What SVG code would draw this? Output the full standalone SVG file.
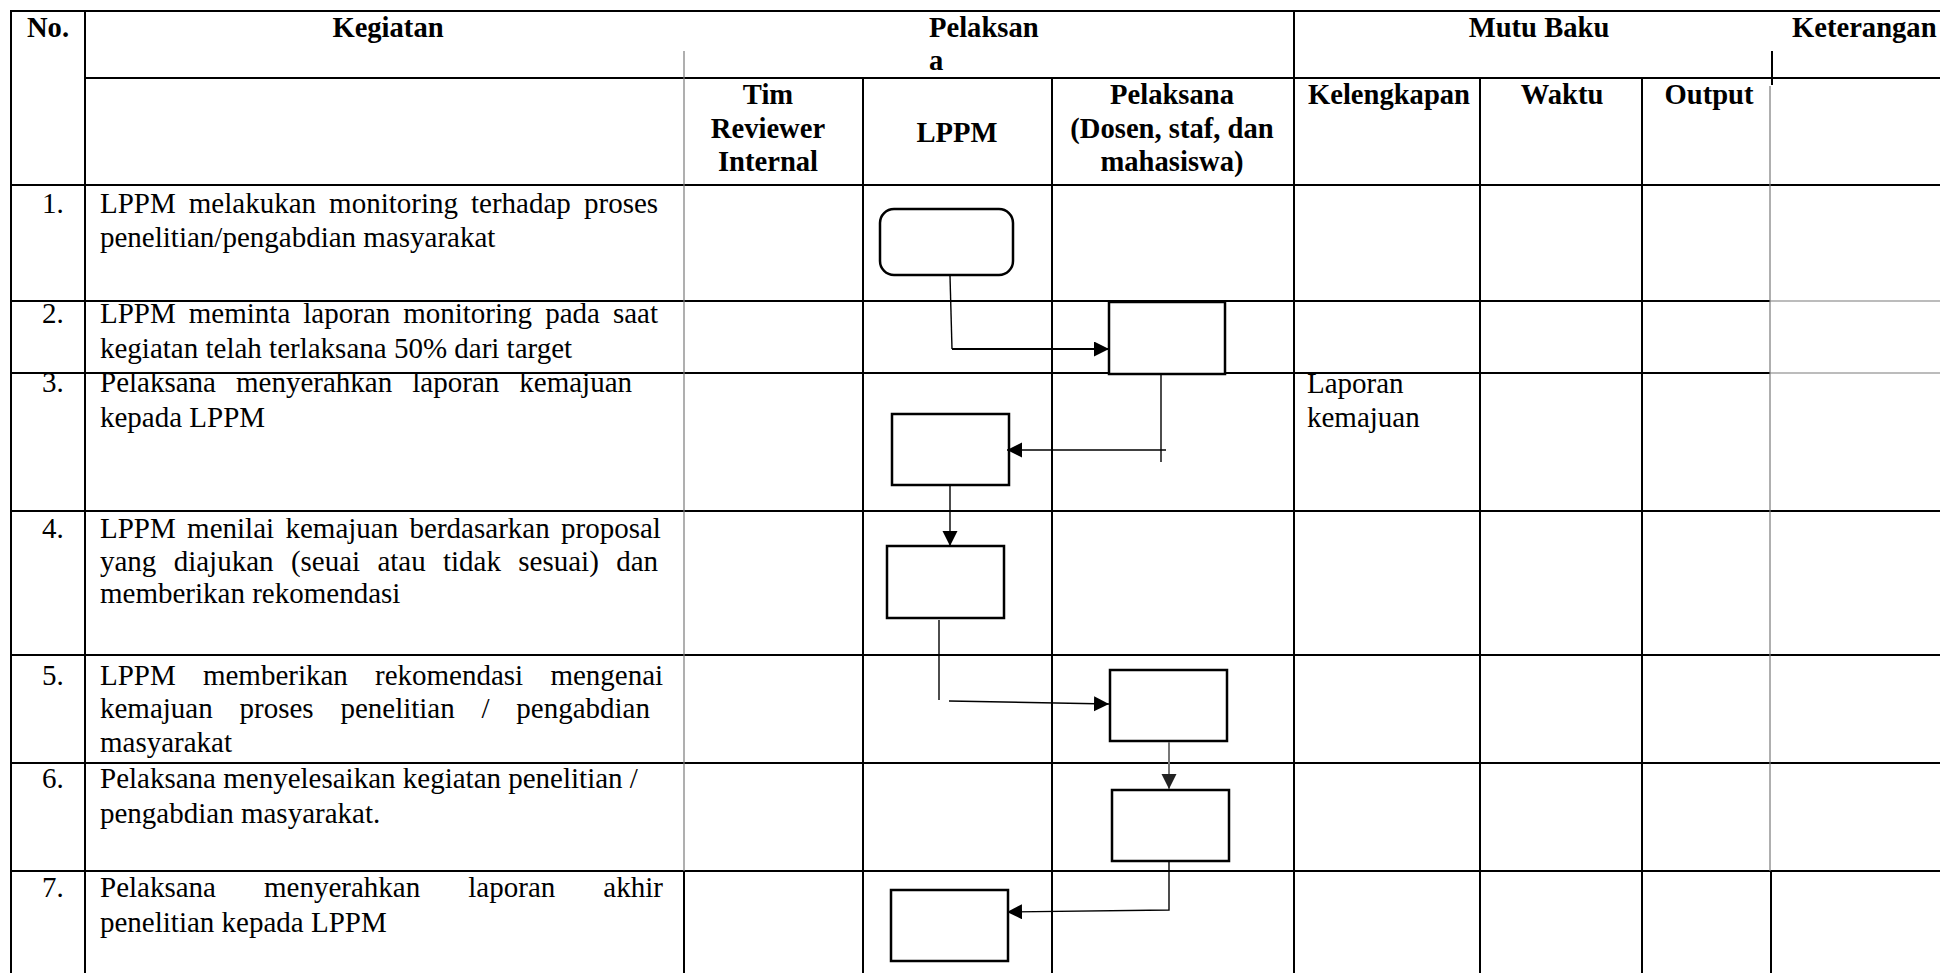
<svg xmlns="http://www.w3.org/2000/svg" width="1940" height="973" viewBox="0 0 1940 973">
<style>
.ln{stroke:#000;stroke-width:2;fill:none}
.gl{stroke:#7a7a7a;stroke-width:1.2;fill:none}
.hd{font-family:"Liberation Serif","Times New Roman",serif;font-weight:bold;font-size:28.6px;fill:#000}
.tx{font-family:"Liberation Serif","Times New Roman",serif;font-size:29px;fill:#000}
.bx{fill:#fff;stroke:#000;stroke-width:2.5}
.cn{stroke:#000;stroke-width:1.4;fill:none}
</style>
<defs>
<marker id="ah" markerUnits="userSpaceOnUse" markerWidth="16" markerHeight="16" refX="15" refY="7.5" orient="auto"><path d="M0,0 L15,7.5 L0,15 Z" fill="#000"/></marker>
<marker id="ahg" markerUnits="userSpaceOnUse" markerWidth="16" markerHeight="16" refX="15" refY="7.5" orient="auto"><path d="M0,0 L15,7.5 L0,15 Z" fill="#222"/></marker>
</defs>
<rect x="0" y="0" width="1940" height="973" fill="#fff"/>
<g id="table">
<line class="ln" x1="10" y1="11" x2="1940" y2="11"/>
<line class="ln" x1="85" y1="78" x2="1940" y2="78"/>
<line class="ln" x1="10" y1="185" x2="1940" y2="185"/>
<line class="ln" x1="10" y1="301" x2="1770" y2="301"/>
<line class="gl" x1="1770" y1="301" x2="1940" y2="301"/>
<line class="ln" x1="10" y1="373" x2="1770" y2="373"/>
<line class="gl" x1="1770" y1="373" x2="1940" y2="373"/>
<line class="ln" x1="10" y1="511" x2="1940" y2="511"/>
<line class="ln" x1="10" y1="655" x2="1940" y2="655"/>
<line class="ln" x1="10" y1="763" x2="1940" y2="763"/>
<line class="ln" x1="10" y1="871" x2="1940" y2="871"/>
<line class="ln" x1="11" y1="10" x2="11" y2="973"/>
<line class="ln" x1="85" y1="10" x2="85" y2="973"/>
<line class="gl" x1="684" y1="51" x2="684" y2="871"/>
<line class="ln" x1="684" y1="871" x2="684" y2="973"/>
<line class="ln" x1="863" y1="78" x2="863" y2="973"/>
<line class="ln" x1="1052" y1="78" x2="1052" y2="973"/>
<line class="ln" x1="1294" y1="10" x2="1294" y2="973"/>
<line class="ln" x1="1480" y1="78" x2="1480" y2="973"/>
<line class="ln" x1="1642" y1="78" x2="1642" y2="973"/>
<line class="ln" x1="1772" y1="51" x2="1772" y2="85"/>
<line class="gl" x1="1770" y1="86" x2="1770" y2="871"/>
<line class="ln" x1="1771" y1="871" x2="1771" y2="973"/>
</g>
<g id="header">
<text class="hd" x="48" y="37" text-anchor="middle">No.</text>
<text class="hd" x="388" y="37" text-anchor="middle">Kegiatan</text>
<text class="hd" x="929" y="37">Pelaksan</text>
<text class="hd" x="929" y="70">a</text>
<text class="hd" x="1539" y="37" text-anchor="middle">Mutu Baku</text>
<text class="hd" x="1792" y="37">Keterangan</text>
<text class="hd" x="768" y="104" text-anchor="middle">Tim</text>
<text class="hd" x="768" y="138" text-anchor="middle">Reviewer</text>
<text class="hd" x="768" y="171" text-anchor="middle">Internal</text>
<text class="hd" x="957" y="142" text-anchor="middle">LPPM</text>
<text class="hd" x="1172" y="104" text-anchor="middle">Pelaksana</text>
<text class="hd" x="1172" y="138" text-anchor="middle">(Dosen, staf, dan</text>
<text class="hd" x="1172" y="171" text-anchor="middle">mahasiswa)</text>
<text class="hd" x="1389" y="104" text-anchor="middle">Kelengkapan</text>
<text class="hd" x="1562" y="104" text-anchor="middle">Waktu</text>
<text class="hd" x="1709" y="104" text-anchor="middle">Output</text>
</g>
<g id="rows">
<text class="tx" x="42" y="213">1.</text>
<text class="tx" y="213"><tspan x="100">LPPM</tspan><tspan x="188.8">melakukan</tspan><tspan x="329.1">monitoring</tspan><tspan x="471">terhadap</tspan><tspan x="584">proses</tspan></text>
<text class="tx" x="100" y="247">penelitian/pengabdian masyarakat</text>
<text class="tx" x="42" y="323">2.</text>
<text class="tx" y="323"><tspan x="100">LPPM</tspan><tspan x="188.8">meminta</tspan><tspan x="303.3">laporan</tspan><tspan x="403.2">monitoring</tspan><tspan x="545.2">pada</tspan><tspan x="612.9">saat</tspan></text>
<text class="tx" x="100" y="358">kegiatan telah terlaksana 50% dari target</text>
<text class="tx" x="42" y="392">3.</text>
<text class="tx" y="392"><tspan x="100">Pelaksana</tspan><tspan x="236">menyerahkan</tspan><tspan x="412.3">laporan</tspan><tspan x="519.3">kemajuan</tspan></text>
<text class="tx" x="100" y="427">kepada LPPM</text>
<text class="tx" x="1307" y="393">Laporan</text>
<text class="tx" x="1307" y="427">kemajuan</text>
<text class="tx" x="42" y="538">4.</text>
<text class="tx" y="538"><tspan x="100">LPPM</tspan><tspan x="187.1">menilai</tspan><tspan x="285.5">kemajuan</tspan><tspan x="409.6">berdasarkan</tspan><tspan x="561">proposal</tspan></text>
<text class="tx" y="571"><tspan x="100">yang</tspan><tspan x="173.7">diajukan</tspan><tspan x="290.9">(seuai</tspan><tspan x="377.4">atau</tspan><tspan x="443">tidak</tspan><tspan x="518.3">sesuai)</tspan><tspan x="616.2">dan</tspan></text>
<text class="tx" x="100" y="603">memberikan rekomendasi</text>
<text class="tx" x="42" y="685">5.</text>
<text class="tx" y="685"><tspan x="100">LPPM</tspan><tspan x="202.9">memberikan</tspan><tspan x="375">rekomendasi</tspan><tspan x="550.4">mengenai</tspan></text>
<text class="tx" y="718"><tspan x="100">kemajuan</tspan><tspan x="239.5">proses</tspan><tspan x="340.4">penelitian</tspan><tspan x="481.5">/</tspan><tspan x="516.3">pengabdian</tspan></text>
<text class="tx" x="100" y="752">masyarakat</text>
<text class="tx" x="42" y="788">6.</text>
<text class="tx" x="100" y="788">Pelaksana menyelesaikan kegiatan penelitian /</text>
<text class="tx" x="100" y="823">pengabdian masyarakat.</text>
<text class="tx" x="42" y="897">7.</text>
<text class="tx" y="897"><tspan x="100">Pelaksana</tspan><tspan x="264">menyerahkan</tspan><tspan x="468.3">laporan</tspan><tspan x="603.3">akhir</tspan></text>
<text class="tx" x="100" y="932">penelitian kepada LPPM</text>
</g>
<g id="node1"><rect class="bx" x="880" y="209" width="133" height="66" rx="14" ry="14"/></g>
<g id="node2"><rect class="bx" x="1109" y="302" width="116" height="72"/></g>
<g id="node3"><rect class="bx" x="892" y="414" width="117" height="71"/></g>
<g id="node4"><rect class="bx" x="887" y="546" width="117" height="72"/></g>
<g id="node5"><rect class="bx" x="1110" y="670" width="117" height="71"/></g>
<g id="node6"><rect class="bx" x="1112" y="790" width="117" height="71"/></g>
<g id="node7"><rect class="bx" x="891" y="890" width="117" height="71"/></g>
<g id="connectors">
<path class="cn" d="M950,276 L952,349"/>
<path class="cn" style="stroke-width:2" d="M952,349 L1109,349" marker-end="url(#ah)"/>
<path class="cn" d="M1161,375 L1161,462"/>
<path class="cn" d="M1166,450 L1007,450" marker-end="url(#ah)"/>
<path class="cn" d="M950,486 L950,546" marker-end="url(#ah)"/>
<path class="cn" d="M939,620 L939,700"/>
<path class="cn" d="M949,701 L1109,704" marker-end="url(#ah)"/>
<path class="cn" style="stroke:#777;stroke-width:2" d="M1169,742 L1169,789" marker-end="url(#ahg)"/>
<path class="cn" d="M1169,862 L1169,910 L1007,912" marker-end="url(#ah)"/>
</g>
</svg>
